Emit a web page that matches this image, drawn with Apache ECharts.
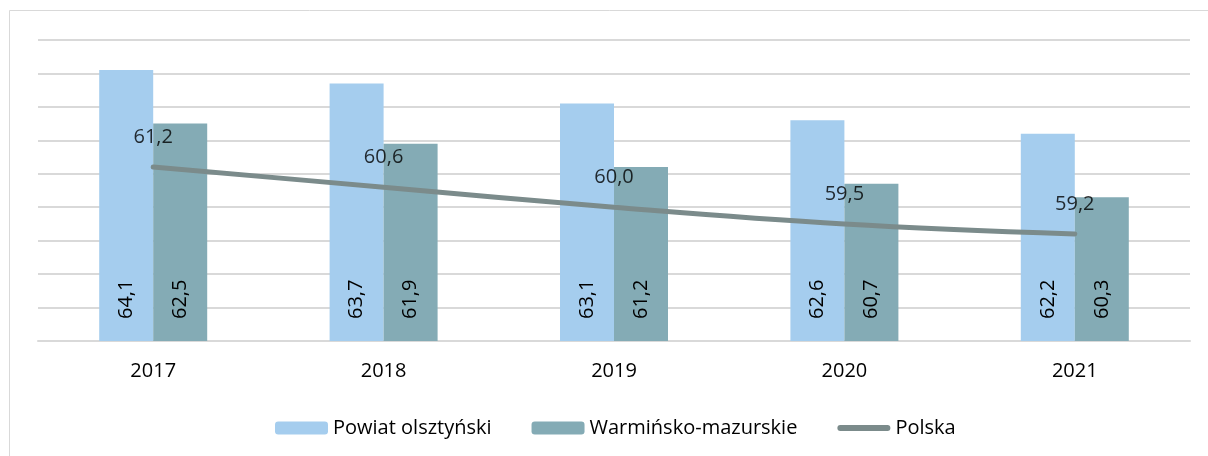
<!DOCTYPE html>
<html style="height: 100%">

<head>
    <meta charset="utf-8">
</head>

<body style="height: 100%; margin: 0">
    <div id="container" style="width: 1208px; height: 456px"></div>
    <script type="text/javascript" src="https://cdn.jsdelivr.net/npm/echarts@6/dist/echarts.min.js"></script>
    <script type="text/javascript">
        var years = ['2017', '2018', '2019', '2020', '2021'];
        var powiat = [64.1, 63.7, 63.1, 62.6, 62.2];
        var wojewodztwo = [62.5, 61.9, 61.2, 60.7, 60.3];
        var polska = [61.2, 60.6, 60.0, 59.5, 59.2];

        var fmt = function (p) {
            return p.value.toFixed(1).replace('.', ',');
        };
        var font = 'Open Sans';
        var fs = 20;

        var barLabel = {
            show: true,
            position: 'insideBottom',
            rotate: 90,
            align: 'left',
            verticalAlign: 'middle',
            distance: 22,
            formatter: fmt,
            color: '#000',
            fontSize: fs,
            fontFamily: font
        };

        var dom = document.getElementById("container");
        var myChart = echarts.init(dom);
        var option = {
            animation: false,
            backgroundColor: '#fff',
            graphic: [{
                type: 'rect',
                shape: { x: 9.5, y: 10.5, width: 1300, height: 500 },
                style: { fill: 'none', stroke: '#d9d9d9', lineWidth: 1 }
            }],
            grid: { left: 38, right: 18, top: 40, bottom: 115 },
            legend: {
                top: 413,
                left: 270,
                itemGap: 40,
                itemWidth: 53,
                itemHeight: 13,
                textStyle: { fontSize: fs, fontFamily: font, color: '#000' },
                data: [
                    'Powiat olsztyński',
                    'Warmińsko-mazurskie',
                    {
                        name: 'Polska',
                        // thick rounded line like the reference
                        icon: 'path://M3,0 L52,0 A3,3 0 0 1 52,6 L3,6 A3,3 0 0 1 3,0 Z',
                        itemStyle: { color: '#7b8b8b' }
                    }
                ]
            },
            xAxis: {
                type: 'category',
                data: years,
                axisLine: { lineStyle: { color: '#d9d9d9', width: 2 } },
                axisTick: { show: false },
                axisLabel: { fontSize: fs, fontFamily: font, color: '#000', margin: 20 }
            },
            yAxis: {
                type: 'value',
                min: 56,
                max: 65,
                interval: 1,
                axisLabel: { show: false },
                axisLine: { show: false },
                axisTick: { show: false },
                splitLine: { lineStyle: { color: '#d9d9d9', width: 2 } }
            },
            series: [
                {
                    name: 'Powiat olsztyński',
                    type: 'bar',
                    data: powiat,
                    barWidth: 54,
                    barGap: '0%',
                    itemStyle: { color: '#a5cdee' },
                    label: barLabel
                },
                {
                    name: 'Warmińsko-mazurskie',
                    type: 'bar',
                    data: wojewodztwo,
                    barWidth: 54,
                    barGap: '0%',
                    itemStyle: { color: '#84abb5' },
                    label: barLabel
                },
                {
                    name: 'Polska',
                    type: 'line',
                    data: polska,
                    smooth: 0.4,
                    symbol: 'none',
                    lineStyle: { color: '#7b8b8b', width: 5, cap: 'round' },
                    itemStyle: { color: '#7b8b8b' }
                },
                {
                    // labels of the Polska line
                    name: 'Polska etykiety',
                    type: 'scatter',
                    data: polska,
                    symbolSize: 0,
                    silent: true,
                    z: 5,
                    label: {
                        show: true,
                        position: 'top',
                        distance: 20,
                        formatter: fmt,
                        color: '#000',
                        fontSize: fs,
                        fontFamily: font
                    }
                }
            ]
        };
        myChart.setOption(option, true);
    </script>
</body>

</html>
